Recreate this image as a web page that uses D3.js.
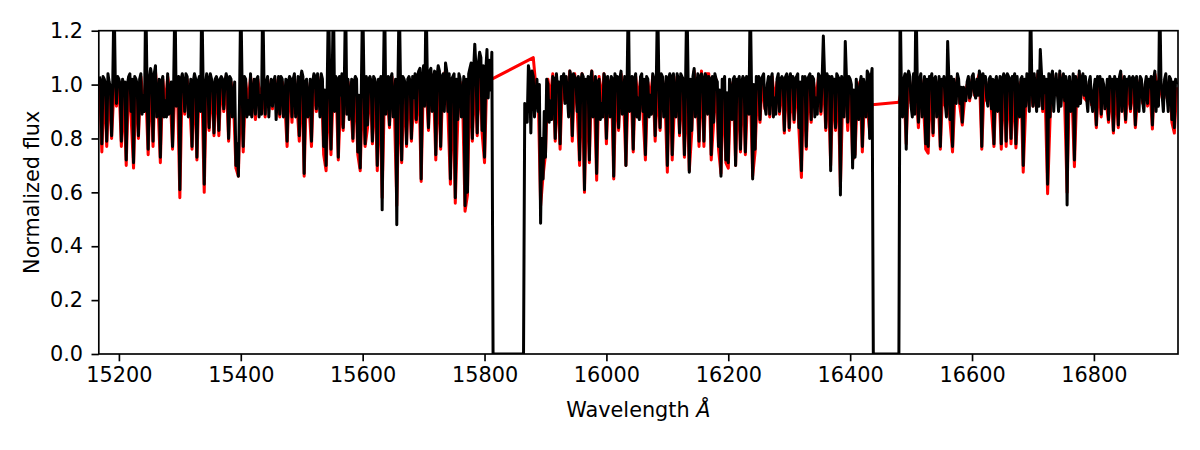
<!DOCTYPE html>
<html>
<head>
<meta charset="utf-8">
<script src="https://cdn.jsdelivr.net/npm/d3@7"></script>
<style>
  html, body { margin: 0; padding: 0; background: #fff; }
  svg text { font-family: "DejaVu Sans", sans-serif; fill: #000; }
</style>
</head>
<body>
<div id="chart"></div>
<script>
// sample grids (Angstrom)
var obsStart = 15168, obsStep = 2;
var modelStart = 15168, modelStep = 4;

// observed spectrum (black), chip gaps set to 0
var observedFlux = [
  1.03, 1.01, 0.78, 1.03, 1.02, 1.00, 0.79, 1.04, 1.01, 0.99, 0.81, 1.02, 1.35, 1.02, 0.93, 1.03, 1.02, 1.00, 0.79, 1.02,
  0.97, 1.01, 0.72, 1.00, 1.03, 1.04, 0.90, 1.02, 0.71, 1.03, 1.02, 1.00, 0.81, 1.02, 1.04, 0.89, 0.96, 0.90, 1.35, 1.02,
  0.76, 1.02, 1.06, 1.03, 0.79, 1.04, 1.07, 0.88, 0.95, 1.02, 0.73, 1.01, 1.03, 0.88, 0.94, 0.88, 1.04, 0.89, 0.98, 1.01,
  0.77, 1.02, 1.35, 0.92, 1.00, 1.03, 0.61, 1.02, 1.04, 1.01, 0.90, 1.04, 1.03, 0.88, 0.95, 1.02, 0.77, 1.01, 1.04, 1.02,
  0.73, 1.01, 1.03, 0.90, 1.35, 1.03, 0.63, 1.00, 1.04, 1.02, 0.84, 1.04, 1.02, 1.00, 0.82, 1.02, 1.03, 1.01, 0.83, 1.02,
  1.03, 1.02, 0.91, 1.01, 1.04, 1.02, 0.80, 1.03, 1.02, 0.88, 0.95, 1.01, 0.70, 0.78, 0.66, 0.95, 1.35, 1.02, 0.77, 1.03,
  1.02, 0.88, 0.94, 0.89, 1.04, 0.88, 0.97, 1.02, 0.89, 1.02, 1.03, 0.88, 0.96, 0.89, 1.35, 1.02, 0.89, 1.01, 1.03, 0.88,
  0.97, 1.02, 0.92, 1.01, 1.03, 0.87, 0.96, 1.03, 0.89, 1.03, 1.02, 0.88, 0.95, 1.02, 0.79, 1.01, 1.03, 1.02, 0.88, 1.02,
  1.04, 0.88, 0.94, 1.03, 0.81, 1.02, 1.05, 1.03, 0.67, 1.01, 1.02, 0.88, 0.93, 1.02, 0.79, 1.01, 1.04, 1.03, 0.91, 1.04,
  0.98, 0.88, 1.04, 1.02, 0.77, 0.98, 0.70, 1.02, 1.35, 1.01, 0.76, 1.02, 1.35, 0.90, 1.03, 1.02, 0.73, 1.03, 0.96, 1.04,
  0.84, 1.02, 1.35, 0.89, 1.02, 0.87, 0.95, 1.02, 0.80, 1.01, 1.03, 1.02, 0.75, 0.96, 0.69, 1.01, 1.35, 1.02, 0.78, 1.03,
  0.85, 1.02, 1.03, 1.01, 0.79, 1.03, 1.02, 1.00, 0.70, 1.02, 1.01, 1.03, 0.535, 1.00, 1.35, 0.89, 0.98, 1.03, 0.85, 1.02,
  1.04, 0.88, 0.92, 1.02, 0.48, 1.02, 1.35, 1.02, 0.72, 1.03, 1.02, 1.00, 0.78, 1.02, 1.03, 1.01, 0.80, 1.03, 0.95, 1.04,
  0.87, 1.03, 1.05, 1.06, 0.65, 1.02, 1.07, 0.92, 1.35, 1.04, 0.84, 1.05, 1.06, 0.90, 1.02, 1.05, 0.74, 1.03, 1.07, 1.05,
  0.77, 1.03, 1.04, 0.90, 1.08, 1.05, 0.90, 1.04, 0.65, 1.02, 1.03, 1.04, 0.58, 1.02, 0.87, 1.04, 1.02, 0.88, 0.95, 1.03,
  0.55, 1.02, 0.60, 1.04, 1.06, 1.08, 0.80, 1.05, 1.15, 1.06, 0.82, 1.08, 1.12, 1.10, 0.83, 1.07, 0.73, 1.05, 1.13, 0.95,
  1.09, 0.98, 1.12,
  0, 0, 0, 0, 0, 0, 0, 0, 0, 0, 0, 0, 0, 0, 0, 0, 0, 0, 0, 0, 0, 0, 0, 0, 0, 0,
  0.93, 0.92, 0.86, 1.07, 1.04, 0.82, 1.05, 1.03, 0.88, 0.95, 1.02,
  0.90, 1.00, 0.485, 0.80, 0.65, 0.90, 0.73, 1.02, 1.00, 0.86, 0.94, 0.87, 1.03, 1.02, 0.80, 1.04, 0.98, 1.01, 0.78, 1.03,
  1.02, 1.04, 0.93, 1.03, 0.96, 0.88, 1.05, 1.03, 0.81, 1.04, 1.03, 1.02, 0.90, 1.03, 0.72, 1.01, 1.04, 1.03, 0.61, 1.02,
  0.98, 1.03, 0.72, 1.02, 1.05, 0.88, 0.95, 1.03, 0.67, 1.01, 1.02, 0.87, 0.93, 0.88, 1.04, 1.02, 0.80, 1.03, 0.99, 0.88,
  1.03, 1.02, 0.66, 1.04, 1.02, 1.03, 0.84, 1.02, 1.05, 0.89, 0.96, 1.03, 0.70, 1.01, 1.35, 0.90, 1.01, 1.03, 0.76, 1.02,
  1.04, 0.88, 0.95, 0.87, 1.03, 1.04, 0.90, 1.02, 0.74, 1.03, 1.02, 0.88, 0.96, 0.89, 1.04, 1.02, 0.81, 1.03, 1.35, 1.02,
  0.84, 1.04, 1.03, 0.88, 0.96, 1.03, 0.70, 1.02, 1.04, 1.03, 0.74, 1.04, 0.95, 0.88, 1.04, 1.02, 0.82, 1.04, 1.03, 1.02,
  0.74, 1.02, 1.35, 1.03, 0.675, 1.02, 0.83, 1.03, 1.06, 0.88, 0.98, 1.04, 0.79, 1.03, 1.04, 1.02, 0.79, 1.04, 1.03, 0.89,
  1.03, 1.02, 0.74, 1.03, 0.86, 1.04, 1.02, 1.01, 0.77, 0.98, 0.66, 1.02, 1.00, 1.03, 0.72, 0.97, 0.71, 1.02, 0.97, 0.87,
  1.02, 1.03, 0.70, 1.02, 1.01, 1.03, 0.76, 1.01, 1.03, 1.02, 0.75, 1.03, 0.98, 0.89, 1.35, 1.01, 0.65, 1.00, 0.76, 1.03,
  1.00, 1.03, 0.87, 1.02, 1.03, 1.04, 0.92, 0.89, 1.00, 1.03, 0.89, 1.02, 1.04, 0.88, 0.95, 0.89, 1.02, 1.04, 0.90, 1.02,
  1.03, 1.02, 0.83, 1.03, 1.04, 1.02, 0.84, 1.04, 0.99, 1.03, 0.87, 1.02, 1.03, 1.04, 0.84, 1.01, 0.68, 1.03, 1.02, 1.03,
  0.77, 1.02, 1.03, 1.04, 0.87, 1.03, 1.02, 0.88, 0.95, 0.89, 1.04, 1.03, 0.90, 1.02, 1.18, 1.03, 0.84, 1.04, 1.02, 1.03,
  0.68, 1.03, 1.01, 1.02, 0.84, 1.04, 1.03, 1.02, 0.59, 1.03, 0.98, 0.88, 1.16, 1.02, 0.86, 1.03, 1.02, 1.00, 0.69, 0.98,
  0.73, 1.02, 0.96, 0.87, 1.00, 1.03, 0.77, 1.02, 0.99, 0.88, 1.05, 1.04, 0.80, 1.02, 1.06,
  0, 0, 0, 0, 0, 0, 0, 0, 0, 0, 0, 0, 0, 0, 0, 0, 0, 0, 0, 0, 0, 0,
  1.35, 0.98, 0.88, 1.02, 1.04, 0.76, 1.03, 1.05, 1.03, 0.92, 0.88, 1.04, 0.89, 1.35, 1.03, 0.86, 1.02, 1.04, 0.88, 0.95,
  1.03, 0.78, 1.02,
  0.77, 1.03, 1.02, 1.04, 0.82, 1.02, 1.03, 0.88, 0.98, 1.03, 0.77, 1.02, 1.00, 1.03, 0.93, 0.88, 1.16, 1.02, 0.87, 1.03,
  0.77, 1.02, 0.97, 0.93, 1.04, 1.02, 0.93, 0.99, 0.86, 0.99, 0.96, 0.94, 1.01, 1.03, 0.95, 0.96, 1.03, 1.04, 0.97, 0.95,
  1.02, 0.96, 1.05, 1.03, 0.77, 1.04, 1.01, 1.03, 0.95, 0.92, 1.02, 1.03, 0.91, 1.02, 0.78, 1.01, 1.03, 0.90, 1.00, 1.03,
  0.78, 1.02, 1.04, 1.03, 0.79, 1.04, 1.03, 1.02, 0.80, 1.03, 1.02, 1.04, 0.78, 1.03, 0.95, 0.88, 1.02, 1.03, 0.70, 1.02,
  0.92, 1.04, 1.01, 0.90, 1.35, 1.02, 0.92, 1.04, 0.98, 0.90, 1.05, 0.92, 1.13, 1.04, 0.91, 1.03, 0.97, 1.02, 0.63, 1.04,
  0.88, 1.03, 1.05, 0.90, 0.99, 1.04, 0.97, 0.90, 1.05, 0.92, 1.00, 1.04, 0.94, 1.03, 0.553, 1.00, 1.03, 0.90, 0.97, 1.04,
  0.72, 1.03, 0.99, 0.92, 1.05, 0.93, 1.02, 1.04, 0.96, 1.03, 0.95, 0.90, 1.01, 1.03, 0.935, 0.90, 0.98, 1.02, 0.85, 1.03,
  1.01, 1.03, 0.89, 1.02, 1.00, 0.91, 0.95, 1.02, 0.87, 1.03, 1.00, 1.02, 0.83, 1.03, 0.99, 1.02, 0.85, 1.03, 1.05, 0.90,
  0.98, 1.03, 0.87, 1.02, 1.01, 1.03, 0.91, 1.02, 1.03, 1.02, 0.85, 1.03, 0.97, 0.90, 1.03, 1.02, 0.94, 0.90, 1.00, 1.03,
  0.93, 1.02, 0.99, 1.03, 0.85, 1.02, 1.05, 0.90, 1.01, 0.92, 1.35, 1.02, 0.96, 0.90, 1.02, 1.04, 0.96, 0.90, 1.03, 1.02,
  0.87, 1.01, 0.84, 1.02, 1.00
];

// model spectrum (red), no samples inside the chip gaps
var modelFlux = [
  1.02, 0.75, 1.01, 0.77, 1.00, 0.80, 0.99, 0.92, 1.01, 0.77,
  0.96, 0.70, 1.02, 0.88, 0.69, 1.01, 0.80, 1.03, 0.95, 0.98,
  0.74, 1.04, 0.77, 1.05, 0.93, 0.71, 1.02, 0.92, 1.03, 0.97,
  0.76, 0.99, 0.99, 0.58, 1.03, 0.89, 1.02, 0.94, 0.76, 1.03,
  0.72, 1.02, 1.00, 0.60, 1.03, 0.83, 1.01, 0.81, 1.02, 0.81,
  1.02, 0.90, 1.03, 0.79, 1.01, 0.94, 0.69, 0.66, 0.99, 0.75,
  1.01, 0.93, 1.03, 0.96, 0.87, 1.02, 0.95, 1.00, 0.88, 1.02,
  0.96, 0.91, 1.02, 0.95, 0.88, 1.01, 0.94, 0.77, 1.02, 0.86,
  1.03, 0.93, 0.79, 1.04, 0.66, 1.01, 0.92, 0.77, 1.03, 0.90,
  0.97, 1.03, 0.74, 0.68, 1.00, 0.74, 1.00, 1.02, 0.72, 0.95,
  0.83, 0.99, 1.01, 0.94, 0.79, 1.02, 0.74, 0.68, 0.99, 0.77,
  0.84, 1.02, 0.78, 1.01, 0.68, 1.00, 0.58, 0.99, 0.97, 0.84,
  1.03, 0.91, 0.55, 1.00, 0.71, 1.01, 0.77, 1.02, 0.79, 0.94,
  0.86, 1.04, 0.64, 1.04, 1.00, 0.83, 1.04, 1.01, 0.72, 1.04,
  0.76, 1.03, 1.05, 0.89, 0.63, 1.01, 0.56, 0.86, 1.01, 0.94,
  0.53, 0.59, 1.04, 0.79, 1.03, 0.81, 1.06, 0.82, 0.71, 1.05, 1.04, 1.02,
  null, null, null, null, null, null, null, null, null, null, null, null, null,
  null, null, null, 1.10, 1.00,
  0.97, 0.55, 0.66, 0.74, 1.02, 0.95, 1.04, 0.79, 0.99, 0.76,
  1.03, 0.94, 0.97, 1.05, 0.79, 1.04, 0.91, 0.70, 1.04, 0.60,
  0.99, 0.71, 1.05, 0.96, 0.645, 1.03, 0.94, 1.04, 0.78, 1.00,
  1.02, 0.65, 1.02, 0.83, 1.04, 0.96, 0.70, 1.00, 1.01, 0.75,
  1.03, 0.94, 1.02, 0.89, 0.72, 1.01, 0.95, 1.03, 0.79, 1.00,
  0.83, 1.02, 0.95, 0.675, 1.03, 0.72, 0.94, 1.03, 0.81, 1.02,
  0.73, 1.00, 0.68, 0.82, 1.05, 0.97, 0.77, 1.05, 0.77, 1.04,
  1.04, 0.72, 0.86, 1.02, 0.76, 0.67, 1.01, 0.71, 0.69, 0.98,
  1.01, 0.70, 1.00, 0.75, 1.02, 0.74, 0.97, 0.99, 0.66, 0.75,
  0.99, 0.86, 1.02, 0.91, 0.99, 0.88, 1.03, 0.94, 1.01, 0.89,
  1.02, 0.82, 1.03, 0.83, 0.98, 0.86, 1.02, 0.83, 0.655, 1.01,
  0.76, 1.02, 0.86, 1.01, 0.94, 1.03, 0.89, 1.02, 0.83, 1.01,
  0.70, 1.00, 0.83, 1.02, 0.62, 0.97, 1.01, 0.83, 1.01, 0.72,
  0.74, 0.97, 1.01, 0.75, 0.98, 0.93, 0.82, 0.925,
  null, null, null, null, null, null, null, null, null, null, 0.934,
  0.98, 1.00, 0.78, 1.03, 0.93, 1.02, 0.99, 0.84, 1.02, 0.94, 0.76,
  0.745, 1.01, 0.81, 1.02, 0.97, 0.76, 0.99, 0.92, 1.00, 0.86,
  0.75, 0.96, 1.03, 0.92, 0.85, 0.95, 1.00, 0.94, 1.02, 0.96,
  1.01, 1.04, 0.76, 1.00, 0.94, 1.01, 0.90, 0.77, 1.02, 0.99,
  0.76, 1.03, 0.77, 1.02, 0.78, 1.01, 0.765, 0.93, 1.01, 0.675,
  0.91, 1.00, 0.99, 0.92, 0.97, 1.04, 1.01, 0.90, 0.96, 0.595,
  0.87, 1.04, 0.98, 0.96, 1.04, 0.99, 0.93, 0.60, 1.02, 0.96,
  0.695, 0.98, 1.04, 1.01, 0.95, 0.94, 1.00, 0.925, 0.97, 0.84,
  1.00, 0.88, 0.99, 0.94, 0.86, 0.99, 0.82, 0.98, 0.84, 1.04,
  0.97, 0.86, 1.00, 0.90, 1.02, 0.84, 0.96, 1.02, 0.93, 0.99,
  0.92, 0.98, 0.835, 1.04, 1.00, 1.00, 0.95, 1.01, 0.95, 1.02, 0.86, 0.82, 0.99
];

var xTicks = [15200, 15400, 15600, 15800, 16000, 16200, 16400, 16600, 16800];
var yTicks = [0.0, 0.2, 0.4, 0.6, 0.8, 1.0, 1.2];

var width = 1200, height = 450;
var margin = {left: 98.8, right: 22, top: 30.7, bottom: 96};
var fontSize = '20.8px';

var x = d3.scaleLinear()
    .domain([15167, 16938])
    .range([margin.left, width - margin.right]);
var y = d3.scaleLinear()
    .domain([0, 1.2])
    .range([height - margin.bottom, margin.top]);

var svg = d3.select('#chart')
    .append('svg')
    .attr('width', width)
    .attr('height', height);

svg.append('rect')
    .attr('width', width)
    .attr('height', height)
    .attr('fill', '#fff');

svg.append('clipPath')
    .attr('id', 'plot-clip')
    .append('rect')
    .attr('x', x.range()[0])
    .attr('y', y.range()[1])
    .attr('width', x.range()[1] - x.range()[0])
    .attr('height', y.range()[0] - y.range()[1]);

//pair the samples with their wavelengths
var observed = observedFlux.map(function(f, i){
    return {wl: obsStart + i * obsStep, flux: f};
});
var model = modelFlux.map(function(f, i){
    return {wl: modelStart + i * modelStep, flux: f};
}).filter(function(d){
    return d.flux !== null;
});

var line = d3.line()
    .x(function(d){ return x(d.wl); })
    .y(function(d){ return y(d.flux); });

var plot = svg.append('g').attr('clip-path', 'url(#plot-clip)');

plot.append('path')
    .datum(model)
    .attr('d', line)
    .attr('fill', 'none')
    .attr('stroke', '#ff0000')
    .attr('stroke-width', 3)
    .attr('stroke-linejoin', 'round');

plot.append('path')
    .datum(observed)
    .attr('d', line)
    .attr('fill', 'none')
    .attr('stroke', '#000')
    .attr('stroke-width', 3)
    .attr('stroke-linejoin', 'round');

//axes
var xAxis = svg.append('g')
    .attr('transform', 'translate(0,' + y.range()[0] + ')')
    .call(d3.axisBottom(x).tickValues(xTicks).tickSize(7.3).tickPadding(5.5).tickFormat(d3.format('d')));
var yAxis = svg.append('g')
    .attr('transform', 'translate(' + x.range()[0] + ',0)')
    .call(d3.axisLeft(y).tickValues(yTicks).tickSize(7.3).tickPadding(8.5).tickFormat(d3.format('.1f')));

[xAxis, yAxis].forEach(function(a){
    a.select('.domain').remove();
    a.selectAll('line').attr('stroke', '#000').attr('stroke-width', 1.67);
    a.selectAll('text')
        .attr('fill', '#000')
        .style('font-size', fontSize)
        .style('font-family', '"DejaVu Sans", sans-serif');
});

svg.append('rect')
    .attr('x', x.range()[0])
    .attr('y', y.range()[1])
    .attr('width', x.range()[1] - x.range()[0])
    .attr('height', y.range()[0] - y.range()[1])
    .attr('fill', 'none')
    .attr('stroke', '#000')
    .attr('stroke-width', 1.67);

var xLabel = svg.append('text')
    .attr('x', (x.range()[0] + x.range()[1]) / 2)
    .attr('y', 417)
    .attr('text-anchor', 'middle')
    .style('font-size', fontSize);
xLabel.append('tspan').text('Wavelength ');
xLabel.append('tspan').style('font-style', 'italic').text('Å');

svg.append('text')
    .attr('transform', 'translate(38.5,' + ((y.range()[0] + y.range()[1]) / 2) + ') rotate(-90)')
    .attr('text-anchor', 'middle')
    .style('font-size', fontSize)
    .text('Normalized flux');
</script>
</body>
</html>
